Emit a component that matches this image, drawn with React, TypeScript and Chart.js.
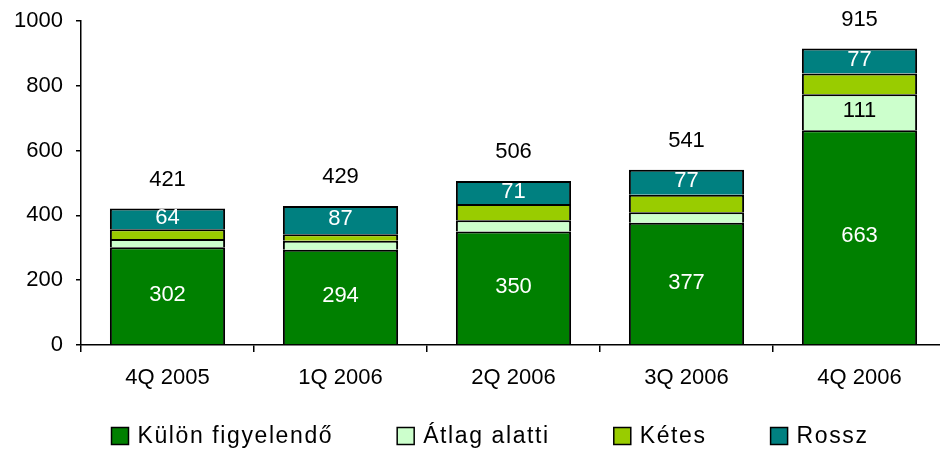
import React, { useEffect, useRef } from 'react';
import { Chart, registerables } from 'chart.js';

Chart.register(...registerables);

const categories = ['4Q 2005', '1Q 2006', '2Q 2006', '3Q 2006', '4Q 2006'];
const seriesNames = ['Külön figyelendő', 'Átlag alatti', 'Kétes', 'Rossz'];
const kulonFigyelendo = [302, 294, 350, 377, 663];
const atlagAlatti = [25, 28, 35, 33, 111];
const ketes = [30, 20, 50, 54, 64];
const rossz = [64, 87, 71, 77, 77];
const totals = [421, 429, 506, 541, 915];
const yTickValues = [0, 200, 400, 600, 800, 1000];

// which segment values are printed on the bars
const kulonLabelShown = [true, true, true, true, true];
const atlagLabelShown = [false, false, false, false, true];
const ketesLabelShown = [false, false, false, false, false];
const rosszLabelShown = [true, true, true, true, true];

const FONT = '"Liberation Sans", Arial, Helvetica, sans-serif';
const COLORS = ['#008000', '#CCFFCC', '#99CC00', '#008080'];
const LABEL_COLORS = ['#FFFFFF', '#000000', '#000000', '#FFFFFF'];

const barLabelPlugin = {
  id: 'barLabels',
  afterDatasetsDraw(chart: any) {
    const ctx = chart.ctx;
    ctx.save();
    ctx.font = `22px ${FONT}`;
    ctx.textAlign = 'center';
    ctx.textBaseline = 'middle';
    chart.data.datasets.forEach((ds: any, di: number) => {
      const meta = chart.getDatasetMeta(di);
      meta.data.forEach((el: any, i: number) => {
        if (!ds.labelShown[i]) return;
        const { x, y, base } = el.getProps(['x', 'y', 'base'], true);
        ctx.fillStyle = ds.labelColor;
        ctx.fillText(String(ds.data[i]), x, (y + base) / 2 - 1);
      });
    });
    const xs = chart.scales.x;
    const ys = chart.scales.y;
    ctx.fillStyle = '#000';
    totals.forEach((t, i) => {
      ctx.fillText(String(t), xs.getPixelForValue(i), ys.getPixelForValue(t) - 29);
    });
    ctx.restore();
  },
};

const legendPlugin = {
  id: 'refLegend',
  afterDraw(chart: any, _args: any, opts: any) {
    const ctx = chart.ctx;
    ctx.save();
    ctx.font = `23px ${FONT}`;
    try { (ctx as any).letterSpacing = '1.6px'; } catch (e) { /* ignore */ }
    ctx.textBaseline = 'middle';
    ctx.textAlign = 'left';
    const box = 17;
    const gapText = 9;
    const gapItem = 64;
    const items = chart.data.datasets.map((ds: any) => ({
      text: ds.label,
      color: ds.backgroundColor,
      w: ctx.measureText(ds.label).width,
    }));
    const total = items.reduce((s: number, it: any) => s + box + gapText + it.w, 0) + gapItem * (items.length - 1);
    let x = opts.centerX - total / 2;
    const y = opts.centerY;
    items.forEach((it: any) => {
      ctx.fillStyle = it.color;
      ctx.fillRect(x, y - box / 2, box, box);
      ctx.lineWidth = 1.5;
      ctx.strokeStyle = '#000';
      ctx.strokeRect(x, y - box / 2, box, box);
      ctx.fillStyle = '#000';
      ctx.fillText(it.text, x + box + gapText, y + 1);
      x += box + gapText + it.w + gapItem;
    });
    ctx.restore();
  },
};

export default function App() {
  const canvasRef = useRef<HTMLCanvasElement | null>(null);

  useEffect(() => {
    if (!canvasRef.current) return;
    const seriesData = [kulonFigyelendo, atlagAlatti, ketes, rossz];
    const shown = [kulonLabelShown, atlagLabelShown, ketesLabelShown, rosszLabelShown];
    const chart = new Chart(canvasRef.current, {
      type: 'bar',
      data: {
        labels: categories,
        datasets: seriesData.map((d, i) => ({
          label: seriesNames[i],
          data: d,
          backgroundColor: COLORS[i],
          borderColor: '#000000',
          borderWidth: 2,
          barPercentage: 0.666,
          categoryPercentage: 1,
          labelShown: shown[i],
          labelColor: LABEL_COLORS[i],
        })) as any,
      },
      options: {
        animation: false,
        responsive: false,
        maintainAspectRatio: false,
        devicePixelRatio: 1,
        layout: { padding: { left: 0, right: 0, top: 21, bottom: 56 } },
        plugins: {
          legend: { display: false },
          tooltip: { enabled: false },
          refLegend: { centerX: 490, centerY: 436 },
        } as any,
        scales: {
          x: {
            stacked: true,
            grid: {
              offset: true,
              drawOnChartArea: false,
              drawTicks: true,
              tickLength: 7,
              color: '#000',
              lineWidth: 1.5,
            },
            border: { color: '#000', width: 1.5 },
            ticks: {
              color: '#000',
              font: { family: FONT, size: 22 },
              padding: 13,
              maxRotation: 0,
            },
            afterFit: (scale: any) => { scale.height = 50; },
          },
          y: {
            stacked: true,
            min: 0,
            max: 1000,
            afterBuildTicks: (scale: any) => {
              scale.ticks = yTickValues.map((v) => ({ value: v }));
            },
            grid: {
              drawOnChartArea: false,
              drawTicks: true,
              tickLength: 5,
              color: '#000',
              lineWidth: 1.5,
            },
            border: { color: '#000', width: 1.5 },
            ticks: {
              color: '#000',
              font: { family: FONT, size: 22 },
              padding: 13,
              callback: (v: any) => String(v),
            },
            afterFit: (scale: any) => {
              scale.width = 81;
              scale.paddingTop = 0;
              scale.paddingBottom = 0;
            },
          },
        },
      },
      plugins: [barLabelPlugin, legendPlugin],
    });
    return () => chart.destroy();
  }, []);

  return (
    <div
      style={{
        position: 'fixed',
        left: 0,
        top: 0,
        width: 940,
        height: 451,
        overflow: 'hidden',
        background: '#fff',
      }}
    >
      <canvas ref={canvasRef} width={946} height={451} style={{ display: 'block', width: 946, height: 451 }} />
    </div>
  );
}
